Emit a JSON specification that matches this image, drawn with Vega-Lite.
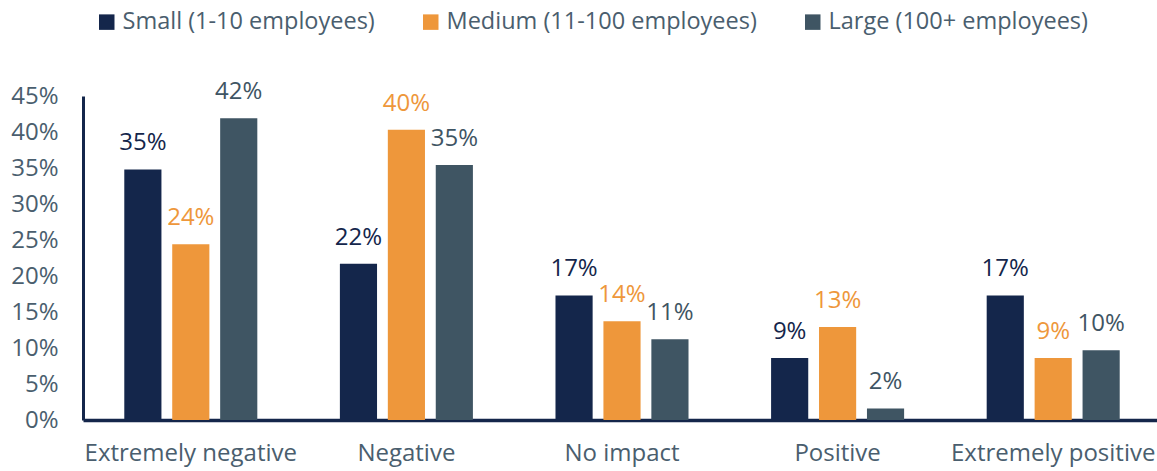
{
  "$schema": "https://vega.github.io/schema/vega-lite/v6.json",
  "autosize": {"type": "none"},
  "width": 1078,
  "height": 324,
  "padding": {"left": 83, "top": 96, "right": 0, "bottom": 51},
  "background": "white",
  "config": {
    "font": "Open Sans",
    "view": {"stroke": null},
    "axis": {"grid": false, "labelFont": "Open Sans", "labelColor": "#4a5e6e", "labelFontSize": 24}
  },
  "data": {
    "values": [
      {"impact": "Extremely negative", "size": "Small (1-10 employees)", "share": 0.348},
      {"impact": "Extremely negative", "size": "Medium (11-100 employees)", "share": 0.244},
      {"impact": "Extremely negative", "size": "Large (100+ employees)", "share": 0.419},
      {"impact": "Negative", "size": "Small (1-10 employees)", "share": 0.217},
      {"impact": "Negative", "size": "Medium (11-100 employees)", "share": 0.403},
      {"impact": "Negative", "size": "Large (100+ employees)", "share": 0.354},
      {"impact": "No impact", "size": "Small (1-10 employees)", "share": 0.173},
      {"impact": "No impact", "size": "Medium (11-100 employees)", "share": 0.137},
      {"impact": "No impact", "size": "Large (100+ employees)", "share": 0.112},
      {"impact": "Positive", "size": "Small (1-10 employees)", "share": 0.086},
      {"impact": "Positive", "size": "Medium (11-100 employees)", "share": 0.129},
      {"impact": "Positive", "size": "Large (100+ employees)", "share": 0.016},
      {"impact": "Extremely positive", "size": "Small (1-10 employees)", "share": 0.173},
      {"impact": "Extremely positive", "size": "Medium (11-100 employees)", "share": 0.086},
      {"impact": "Extremely positive", "size": "Large (100+ employees)", "share": 0.097}
    ]
  },
  "encoding": {
    "x": {
      "field": "impact", "type": "nominal", "sort": null,
      "scale": {"paddingInner": 0.383, "paddingOuter": 0.1915},
      "axis": {"title": null, "labelAngle": 0, "ticks": false, "tickSize": 0, "labelPadding": 21, "labelLimit": 400,
               "domainColor": "#14264b", "domainWidth": 3.5}
    },
    "xOffset": {
      "field": "size", "type": "nominal", "sort": null,
      "scale": {"paddingInner": 0.225, "paddingOuter": 0}
    },
    "y": {
      "field": "share", "type": "quantitative",
      "scale": {"domain": [0, 0.45], "nice": false},
      "axis": {"title": null, "format": ".0%", "values": [0, 0.05, 0.1, 0.15, 0.2, 0.25, 0.3, 0.35, 0.4, 0.45],
               "ticks": false, "tickSize": 0, "labelPadding": 25, "domainColor": "#14264b", "domainWidth": 3}
    },
    "color": {
      "field": "size", "type": "nominal", "sort": null,
      "scale": {"domain": ["Small (1-10 employees)", "Medium (11-100 employees)", "Large (100+ employees)"],
                "range": ["#14264b", "#ee973b", "#3f5563"]},
      "legend": {
        "title": null, "orient": "none", "direction": "horizontal",
        "legendX": 12, "legendY": -86,
        "symbolType": "square", "symbolSize": 240, "symbolStrokeWidth": 0,
        "labelFont": "Open Sans", "labelFontSize": 23.5, "labelColor": "#4a5e6e",
        "labelOffset": 4, "columnPadding": 44, "labelLimit": 400
      }
    }
  },
  "layer": [
    {"mark": {"type": "bar"}},
    {
      "mark": {"type": "text", "baseline": "middle", "dy": -26, "fontSize": 24, "font": "Open Sans"},
      "encoding": {"text": {"field": "share", "type": "quantitative", "format": ".0%"}}
    }
  ]
}
